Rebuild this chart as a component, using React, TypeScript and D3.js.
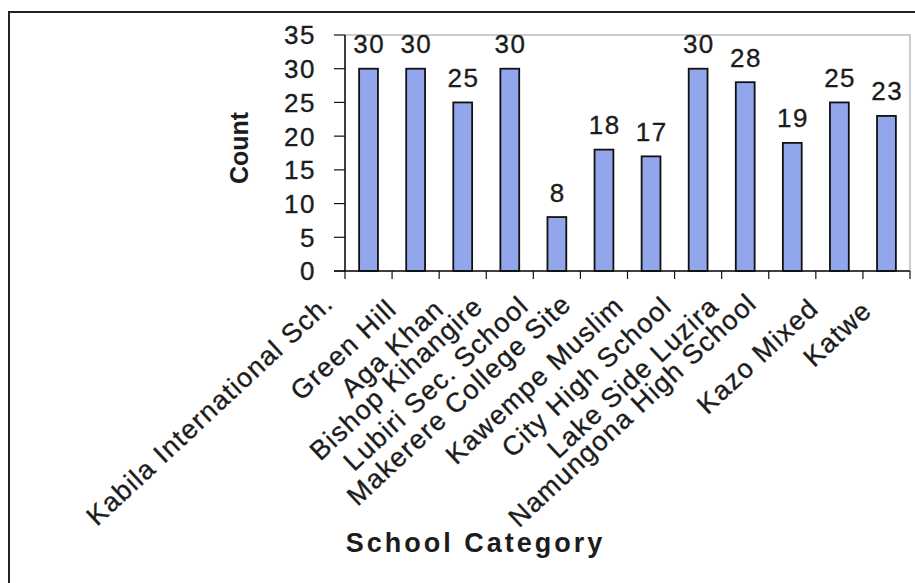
import React, { useLayoutEffect, useRef } from "react";
import * as d3 from "d3";

const categories: string[] = [
  "Kabila International Sch.",
  "Green Hill",
  "Aga Khan",
  "Bishop Kihangire",
  "Lubiri Sec. School",
  "Makerere College Site",
  "Kawempe Muslim",
  "City High School",
  "Lake Side Luzira",
  "Namungona High School",
  "Kazo Mixed",
  "Katwe",
];
const counts: number[] = [30, 30, 25, 30, 8, 18, 17, 30, 28, 19, 25, 23];
const yTicks: number[] = [0, 5, 10, 15, 20, 25, 30, 35];
const yTitle = "Count";
const xTitle = "School Category";

const W = 915;
const H = 583;
const left = 345;
const right = 910;
const top = 35;
const bottom = 271;
const FONT = "'Liberation Sans', Arial, Helvetica, sans-serif";
const TEXT = "#1c1c1c";

export default function App() {
  const labelsRef = useRef<SVGGElement | null>(null);

  const x = d3.scaleBand<string>().domain(categories).range([left, right]).paddingInner(0).paddingOuter(0);
  const y = d3.scaleLinear().domain([0, 35]).range([bottom, top]);
  const bw = x.bandwidth();
  const barW = bw * 0.4;

  useLayoutEffect(() => {
    if (!labelsRef.current) return;
    d3.select(labelsRef.current)
      .selectAll<SVGTextElement, unknown>("text")
      .each(function (_d, i) {
        const len = this.getComputedTextLength();
        const cx = (x(categories[i]) ?? 0) + bw / 2;
        const ex = cx - 6 - 0.085 * len;
        const ey = 315 - 0.03 * len;
        d3.select(this).attr("transform", `translate(${ex},${ey}) rotate(-43)`);
      });
  }, []);

  const boundaries = d3.range(categories.length + 1).map((i) => left + i * bw);

  return (
    <svg
      width={W}
      height={H}
      style={{ position: "absolute", left: 0, top: 0, background: "#fff" }}
      fontFamily={FONT}
    >
      <rect x={0} y={0} width={W} height={H} fill="#fff" />
      {/* outer chart frame */}
      <rect x={9} y={12} width={1000} height={1000} fill="none" stroke="#222" strokeWidth={2} />

      {/* plot area border */}
      <rect x={left} y={top} width={right - left} height={bottom - top} fill="none" stroke="#9a9a9a" strokeWidth={1} />

      {/* bars */}
      {categories.map((c, i) => (
        <rect
          key={c}
          x={(x(c) ?? 0) + (bw - barW) / 2}
          y={y(counts[i])}
          width={barW}
          height={bottom - y(counts[i])}
          fill="#92a6ec"
          stroke="#111"
          strokeWidth={1.8}
        />
      ))}

      {/* value labels */}
      {categories.map((c, i) => (
        <text
          key={"v" + c}
          x={(x(c) ?? 0) + bw / 2 + 0.75}
          y={y(counts[i]) - 15.5}
          textAnchor="middle"
          fontSize={26}
          letterSpacing={1.5}
          fill={TEXT}
          stroke={TEXT}
          strokeWidth={0.35}
        >
          {counts[i]}
        </text>
      ))}

      {/* y axis */}
      <line x1={left} x2={left} y1={top} y2={bottom} stroke="#111" strokeWidth={1.5} />
      {yTicks.map((t) => (
        <g key={"yt" + t}>
          <line x1={left - 11} x2={left} y1={y(t)} y2={y(t)} stroke="#111" strokeWidth={1.2} />
          <text
            x={316}
            y={y(t)}
            dy="0.36em"
            textAnchor="end"
            fontSize={26}
            letterSpacing={1.5}
            fill={TEXT}
            stroke={TEXT}
            strokeWidth={0.35}
          >
            {t}
          </text>
        </g>
      ))}

      {/* x axis */}
      <line x1={left - 11} x2={right} y1={bottom} y2={bottom} stroke="#111" strokeWidth={1.5} />
      {boundaries.map((b, i) => (
        <line key={"xt" + i} x1={b} x2={b} y1={bottom} y2={bottom + 8} stroke="#111" strokeWidth={1.2} />
      ))}

      {/* category labels */}
      <g ref={labelsRef}>
        {categories.map((c, i) => (
          <text
            key={"xl" + c}
            textAnchor="end"
            fontSize={27}
            letterSpacing={1.3}
            fill={TEXT}
            stroke={TEXT}
            strokeWidth={0.35}
            transform={`translate(${(x(c) ?? 0) + bw / 2 - 25},306) rotate(-43)`}
          >
            {c}
          </text>
        ))}
      </g>

      {/* axis titles */}
      <text
        transform={`translate(248,148) rotate(-90)`}
        textAnchor="middle"
        fontSize={25}
        fontWeight="bold"
        fill={TEXT}
      >
        {yTitle}
      </text>
      <text
        x={475.5}
        y={552}
        textAnchor="middle"
        fontSize={27}
        fontWeight="bold"
        letterSpacing={3}
        fill={TEXT}
      >
        {xTitle}
      </text>
    </svg>
  );
}
